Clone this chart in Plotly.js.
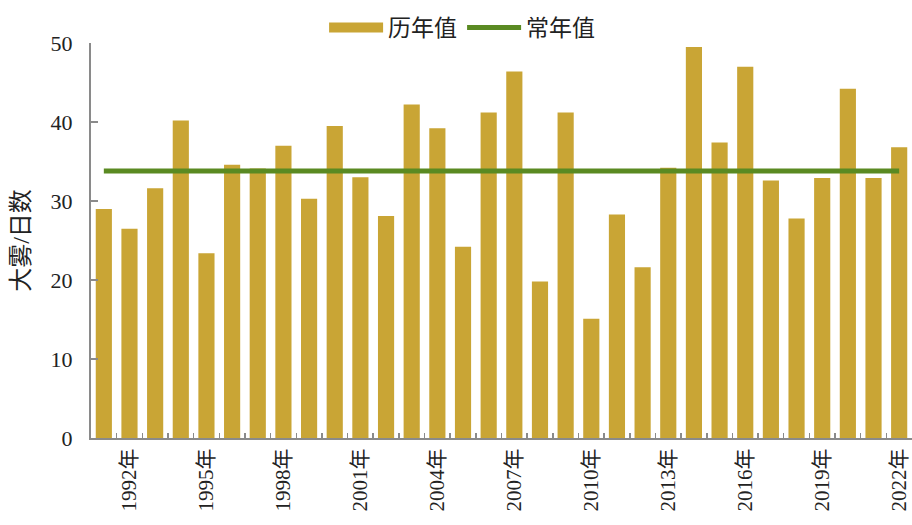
<!DOCTYPE html>
<html>
<head>
<meta charset="utf-8">
<script src="https://cdn.plot.ly/plotly-3.0.1.min.js"></script>
<style>html,body{margin:0;padding:0;background:#fff}#chart{width:912px;height:525px}</style>
</head>
<body>
<div id="chart"></div>
<script>
const years = ["1991年","1992年","1993年","1994年","1995年","1996年","1997年","1998年","1999年","2000年","2001年","2002年","2003年","2004年","2005年","2006年","2007年","2008年","2009年","2010年","2011年","2012年","2013年","2014年","2015年","2016年","2017年","2018年","2019年","2020年","2021年","2022年"];
const annualValues = [29.0,26.5,31.6,40.2,23.4,34.6,34.1,37.0,30.3,39.5,33.0,28.1,42.2,39.2,24.2,41.2,46.4,19.8,41.2,15.1,28.3,21.6,34.2,49.5,37.4,47.0,32.6,27.8,32.9,44.2,32.9,36.8];
const normalValue = 33.8;
const normalValues = years.map(() => normalValue);
const tickLabels = ["1992年","1995年","1998年","2001年","2004年","2007年","2010年","2013年","2016年","2019年","2022年"];
const boundaryTicks = years.map((y, i) => i - 0.5).concat([years.length - 0.5]);

const fontFam = '"Liberation Serif", "Noto Sans CJK SC", serif';
const barColor = '#C9A535';
const lineColor = '#5A8A22';

const traces = [
  {type:'bar', x: years, y: annualValues, name:'历年值', marker:{color: barColor}, showlegend:false},
  {type:'scatter', mode:'lines', x:[years[0]], y:[null], name:'历年值', line:{color: barColor, width:11}, showlegend:true, hoverinfo:'skip'},
  {type:'scatter', mode:'lines', x: years, y: normalValues, name:'常年值', line:{color: lineColor, width:5}},
  {type:'scatter', mode:'lines', x: boundaryTicks, y: boundaryTicks.map(()=>null), xaxis:'x2', showlegend:false, hoverinfo:'skip'}
];

const layout = {
  width: 912, height: 525,
  margin: {l: 91, r: 0, t: 43, b: 87},
  paper_bgcolor: '#fff', plot_bgcolor: '#fff',
  font: {family: fontFam, color: '#222', size: 20},
  bargap: 0.37,
  showlegend: true,
  legend: {orientation:'h', x:0.452, xanchor:'center', y:0.985, yanchor:'bottom', font:{size:23, family: fontFam}, itemwidth: 54, tracegroupgap: 0, bgcolor:'rgba(0,0,0,0)'},
  xaxis: {
    type:'category', range:[-0.5, years.length - 0.5],
    tickmode:'array', tickvals: tickLabels, ticktext: tickLabels,
    tickangle: -90, ticks:'', showgrid:false, zeroline:false,
    showline:true, linecolor:'#8a8a8a', linewidth:2,
    tickfont:{size:21, family: fontFam}
  },
  xaxis2: {
    overlaying:'x', range:[-0.5, years.length - 0.5], tickmode:'array', tickvals: boundaryTicks,
    ticks:'inside', ticklen:5, tickwidth:1.5, tickcolor:'#8a8a8a', showticklabels:false,
    showgrid:false, zeroline:false, showline:false
  },
  yaxis: {
    range:[0,50], tickmode:'linear', tick0:0, dtick:10,
    ticks:'inside', ticklen:7, tickwidth:2, tickcolor:'#8a8a8a',
    showline:true, linecolor:'#8a8a8a', linewidth:2,
    showgrid:false, zeroline:false,
    ticklabelstandoff: 12,
    tickfont:{size:22, family: fontFam},
    title:{text:'大雾/日数', font:{size:24, family: fontFam}, standoff: 14}
  }
};

Plotly.newPlot('chart', traces, layout, {displayModeBar:false, staticPlot:true});
</script>
</body>
</html>
